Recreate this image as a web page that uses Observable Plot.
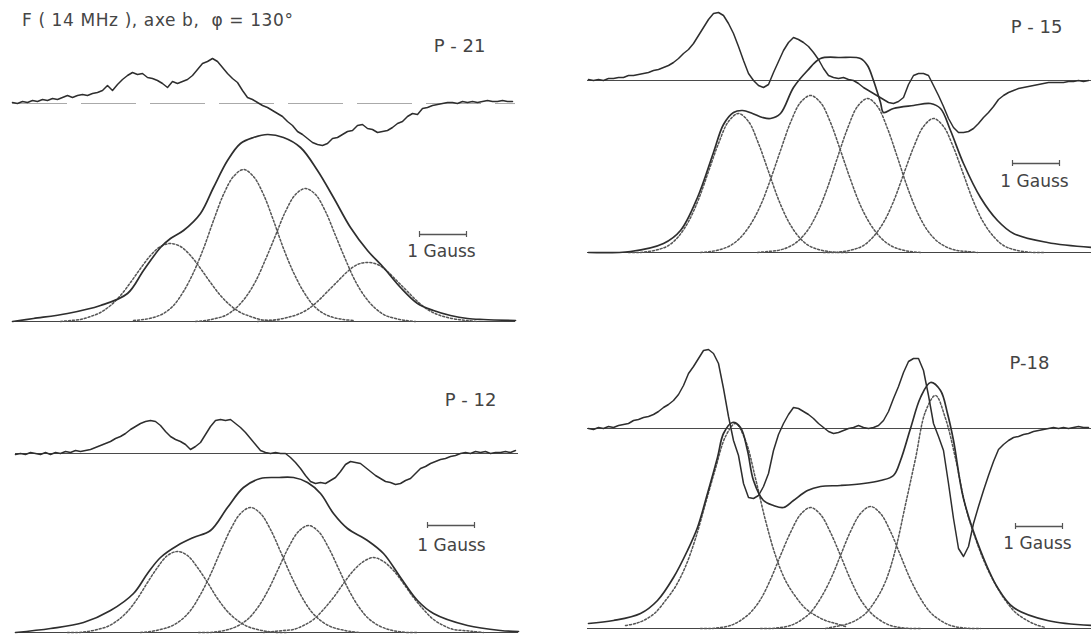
<!DOCTYPE html>
<html><head><meta charset="utf-8">
<script src="https://cdn.jsdelivr.net/npm/d3@7"></script>
<script src="https://cdn.jsdelivr.net/npm/@observablehq/plot@0.6"></script>
<style>
body{margin:0;background:#fff;}
#wrap{position:relative;width:1091px;height:635px;overflow:hidden;background:#fff;font-family:"DejaVu Sans",sans-serif;}
#title{position:absolute;left:22px;top:10px;font-size:17px;color:#454545;white-space:pre;letter-spacing:0.6px;}
</style></head><body>
<div id="wrap"><div id="title">F ( 14 MHz ), axe b,  φ = 130°</div></div>
<script>
// ---------- data (arbitrary field / intensity units) ----------
const panelLabels = ["P - 21", "P - 12", "P - 15", "P-18"];
const gaussLabel = "1 Gauss";
const gaussUnits = 47; // one gauss in field units

// derivative traces, sampled every 5 field units
const derivP21 = [1,0,2,1,3,2,4,3,5,4, 6,8,6,8,9,8,10,11,13,18, 13,19,24,28,31,29,30,26,25,23,
  20,16,22,20,22,24,28,34,40,42, 45,42,36,30,25,21,13,6,4,1, -2,-4,-7,-10,-13,-18,-22,-28,-31,-35,
  -39,-41,-42,-40,-35,-34,-31,-28,-27,-22, -21,-25,-26,-29,-28,-27,-24,-20,-18,-13,
  -10,-11,-5,-4,-2,-1,0,1,1,0, 2,1,2,1,2,3,2,2,3,2,2];
const derivP12 = [-1,0,-1,1,0,-1,1,-1,1,0, 2,1,3,2,3,4,6,8,10,12, 15,17,20,24,27,30,32,33,32,28,
  22,17,14,12,9,4,7,11,19,27, 33,34,33,34,30,26,21,15,9,3, 1,0,1,0,0,-4,-9,-15,-22,-28,
  -30,-29,-30,-27,-24,-18,-11,-8,-9,-10, -14,-18,-22,-25,-28,-29,-31,-30,-27,-25,
  -20,-15,-13,-10,-8,-6,-5,-3,-2,0, 1,0,2,1,2,0,1,1,2,1,3];
const derivP15 = [1,0,1,0,2,2,3,3,5,5, 6,7,8,10,11,13,15,18,22,27, 31,37,45,53,61,67,68,65,57,47,
  34,20,7,0,-5,-7,-4,8,19,30, 38,43,41,38,34,28,21,12,5,3, 2,3,1,0,-3,-7,-10,-13,-16,-19,
  -22,-23,-21,-17,-4,5,7,7,5,-5, -15,-26,-38,-47,-52,-52,-51,-48,-43,-37,
  -32,-26,-19,-15,-12,-10,-8,-7,-6,-5, -4,-3,-2,-2,-2,-2,-1,-1,0,-1,0];
const derivP18 = [0,-1,1,0,2,1,3,4,5,8, 9,11,12,14,17,21,24,28,34,43, 55,62,70,78,79,75,65,40,12,-12,
  -27,-55,-69,-70,-67,-58,-45,-22,-6,5, 14,21,20,17,14,10,5,1,-3,-5, -4,-2,0,1,3,1,0,1,3,8,
  17,30,42,56,67,70,70,58,33,5, -8,-22,-55,-90,-120,-128,-118,-95,-78,-62,
  -47,-33,-21,-16,-12,-9,-8,-6,-5,-3, -2,-1,0,1,0,1,0,1,2,1,1];

// absorption curves (field, intensity)
const absP21X = [12,33,67,100,127,143,160,170,183,200,213,227,240,253,267,283,300,317,333,350,367,383,400,417,433,450,467,483,515];
const absP21Y = [0,3,8,16,28,51,74,83,91,108,134,161,178,184,187,184,174,151,124,94,71,54,34,18,11,6,3,2,1];
const absP12X = [15,50,83,110,133,147,160,177,193,210,227,243,260,277,293,307,320,333,347,367,383,400,417,433,467,500,518];
const absP12Y = [0,4,10,22,39,59,75,87,95,102,125,145,154,155,155,150,139,119,104,92,79,55,32,19,7,2,1];
const absP15X = [588,630,663,680,697,713,723,733,742,752,762,770,780,793,807,820,840,860,867,873,880,883,893,913,930,940,950,963,980,997,1013,1047,1091];
const absP15Y = [0,1,9,22,55,100,128,140,142,139,135,134,139,165,182,194,195,194,187,172,150,140,144,147,149,144,122,89,55,32,19,10,5];
const absP18X = [588,613,640,657,673,687,697,707,717,723,732,740,747,753,763,773,783,793,807,820,840,863,880,893,900,910,920,930,940,947,953,963,980,997,1013,1047,1091];
const absP18Y = [5,8,15,28,51,78,101,135,171,195,206,201,178,148,128,123,121,128,138,142,143,145,148,153,168,200,231,246,238,215,188,130,78,41,21,8,3];

// gaussian components: centre, and values every 10 field units from centre-110 to centre+110
const centersP21 = [170,243,305,367];
const compsP21 = [
  [0,1,2,5,9,16,26,39,53,66,75,78,75,66,53,39,26,16,9,5,2,1,0],
  [1,2,4,8,16,30,49,73,101,127,145,152,145,127,101,73,49,30,16,8,4,2,1],
  [0,1,3,6,13,24,40,62,86,110,127,133,127,110,86,62,40,24,13,6,3,1,0],
  [0,1,2,4,7,12,20,30,40,50,57,59,57,50,40,30,20,12,7,4,2,1,0]];
const centersP12 = [177,250,308,373];
const compsP12 = [
  [0,0,1,3,6,12,21,34,50,65,77,81,77,65,50,34,21,12,6,3,1,0,0],
  [0,1,3,6,12,22,38,58,81,103,119,125,119,103,81,58,38,22,12,6,3,1,0],
  [0,0,1,3,7,14,26,43,64,85,101,107,101,85,64,43,26,14,7,3,1,0,0],
  [0,1,2,3,7,13,23,35,49,62,71,75,71,62,49,35,23,13,7,3,2,1,0]];
const centersP15 = [738,810,867,933];
const compsP15 = [
  [0,0,1,3,7,16,31,53,81,109,131,139,131,109,81,53,31,16,7,3,1,0,0],
  [0,1,3,7,15,28,47,73,102,130,150,157,150,130,102,73,47,28,15,7,3,1,0],
  [0,1,2,5,11,22,40,65,95,124,146,154,146,124,95,65,40,22,11,5,2,1,0],
  [0,0,1,3,7,16,30,51,78,105,126,134,126,105,78,51,30,16,7,3,1,0,0]];
const centersP18 = [735,810,870,935];
const compsP18 = [
  [3,5,9,16,28,42,62,90,125,160,192,205,188,150,108,73,48,32,20,13,8,5,2],
  [0,0,1,3,8,16,29,49,73,96,114,121,114,96,73,49,29,16,8,3,1,0,0],
  [0,0,1,3,8,16,30,49,73,97,115,122,115,97,73,49,30,16,8,3,1,0,0],
  [0,2,4,8,15,28,47,79,124,170,217,233,210,170,122,90,64,44,28,16,9,4,1]];

// ---------- layout ----------
const layout = [
  {label:panelLabels[0], left:0, top:35, width:530, height:295, absBase:321, derivBase:103, dStart:12,
   deriv:derivP21, absX:absP21X, absY:absP21Y, centers:centersP21, comps:compsP21,
   lineX:[12,515], labelAt:[459,46], barAt:[419,234], gaussAt:[441,251], faint:true},
  {label:panelLabels[1], left:0, top:370, width:530, height:265, absBase:632, derivBase:453, dStart:15,
   deriv:derivP12, absX:absP12X, absY:absP12Y, centers:centersP12, comps:compsP12,
   lineX:[15,518], labelAt:[470,400], barAt:[427,525], gaussAt:[451,545]},
  {label:panelLabels[2], left:580, top:0, width:511, height:330, absBase:252, derivBase:80, dStart:588,
   deriv:derivP15, absX:absP15X, absY:absP15Y, centers:centersP15, comps:compsP15,
   lineX:[587,1091], labelAt:[1036,27], barAt:[1012,163], gaussAt:[1034,181]},
  {label:panelLabels[3], left:580, top:335, width:511, height:300, absBase:628, derivBase:428, dStart:588,
   deriv:derivP18, absX:absP18X, absY:absP18Y, centers:centersP18, comps:compsP18,
   lineX:[587,1091], labelAt:[1029,363], barAt:[1015,526], gaussAt:[1037,543]}
];

const wrap = document.getElementById("wrap");
const ink = "#2e2e2e";

function drawPanel(p){
  const Y = py => p.absBase - py;
  const dOff = p.absBase - p.derivBase;
  const derivData = p.deriv.map((v,i)=>({x:p.dStart + i*5, y:v + dOff}));
  const absData = p.absX.map((x,i)=>({x, y:p.absY[i]}));
  const compData = p.comps.flatMap((vals,j)=>vals.map((v,i)=>({c:j, x:p.centers[j] + (i-11)*10, y:v})));
  const by = Y(p.barAt[1]);
  const derivBaseOpts = p.faint ? {stroke:"#aaa", strokeDasharray:"55,14"} : {stroke:"#4a4a4a"};
  const svg = Plot.plot({
    width:p.width, height:p.height, margin:0,
    style:{background:"transparent", overflow:"visible", fontFamily:"DejaVu Sans"},
    x:{domain:[p.left, p.left + p.width], axis:null},
    y:{domain:[Y(p.top + p.height), Y(p.top)], axis:null},
    marks:[
      Plot.ruleY([{y:0, x1:p.lineX[0], x2:p.lineX[1]}], {y:"y", x1:"x1", x2:"x2", stroke:"#444", strokeWidth:1.2}),
      Plot.ruleY([{y:dOff, x1:p.lineX[0], x2:p.lineX[1]}], {y:"y", x1:"x1", x2:"x2", strokeWidth:1.1, ...derivBaseOpts}),
      Plot.line(compData, {x:"x", y:"y", z:"c", curve:"catmull-rom", stroke:"#555", strokeWidth:1.5, strokeDasharray:"2,2"}),
      Plot.line(absData, {x:"x", y:"y", curve:"catmull-rom", stroke:ink, strokeWidth:1.7}),
      Plot.line(derivData, {x:"x", y:"y", stroke:ink, strokeWidth:1.5}),
      Plot.text([p.label], {x:p.labelAt[0], y:Y(p.labelAt[1]), text:d=>d, fontSize:18, fill:"#444"}),
      Plot.ruleY([{y:by, x1:p.barAt[0], x2:p.barAt[0] + gaussUnits}], {y:"y", x1:"x1", x2:"x2", stroke:"#555", strokeWidth:1.4}),
      Plot.ruleX([p.barAt[0], p.barAt[0] + gaussUnits], {x:d=>d, y1:by - 3, y2:by + 3, stroke:"#555", strokeWidth:1.2}),
      Plot.text([gaussLabel], {x:p.gaussAt[0], y:Y(p.gaussAt[1]), text:d=>d, fontSize:17, fill:"#444", letterSpacing:"0.4px"})
    ]
  });
  svg.style.position = "absolute";
  svg.style.left = p.left + "px";
  svg.style.top = p.top + "px";
  wrap.appendChild(svg);
}
layout.forEach(drawPanel);
</script>
</body></html>
